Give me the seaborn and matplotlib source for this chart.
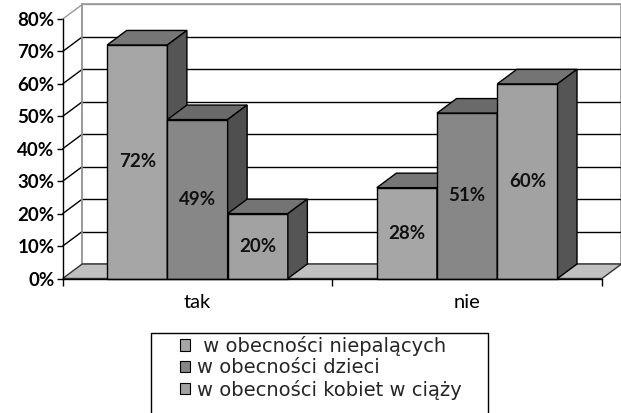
import matplotlib
matplotlib.use("Agg")
import matplotlib.pyplot as plt
import matplotlib.colors as mcolors
from matplotlib.patches import Polygon, Patch, Rectangle
import seaborn as sns
import pandas as pd

categories = ["tak", "nie"]
series = [" w obecności niepalących", "w obecności dzieci", "w obecności kobiet w ciąży"]
values_niepalacych = [72, 28]
values_dzieci = [49, 51]
values_kobiet = [20, 60]
y_ticks = [0, 10, 20, 30, 40, 50, 60, 70, 80]
y_tick_labels = [f"{t}%" for t in y_ticks]

front_colors = ["#a6a6a6", "#878787", "#a2a2a2"]
top_colors = ["#767676", "#6a6a6a", "#747474"]
side_colors = ["#555555", "#4f4f4f", "#555555"]

rows = []
for s, vals in zip(series, [values_niepalacych, values_dzieci, values_kobiet]):
    for c, v in zip(categories, vals):
        rows.append({"cat": c, "series": s, "value": v})
df = pd.DataFrame(rows)

sns.set_theme(style="white")
plt.rcParams["font.family"] = ["Lato", "DejaVu Sans"]

W, H = 621, 413
fig = plt.figure(figsize=(W / 100, H / 100), dpi=100)
x0, x1 = 62.7, 602.0
y0, y1 = 278.5, 19.0
ax = fig.add_axes([x0 / W, 1 - y0 / H, (x1 - x0) / W, (y0 - y1) / H])

sns.barplot(data=df, x="cat", y="value", hue="series", hue_order=series,
            palette=front_colors, width=0.67, edgecolor="black", linewidth=1.0,
            saturation=1, ax=ax, legend=False, errorbar=None)
ax.set_xlim(-0.5, 1.5)
ax.set_ylim(0, 80)

bars = [p for p in ax.patches if isinstance(p, Rectangle) and p.get_height() > 0]
bars = sorted(bars, key=lambda p: p.get_x())

# depth offsets (pixels -> data units)
px_x = (x1 - x0) / 2.0
px_y = (y0 - y1) / 80.0
dx = 19.5 / px_x
dy = 14.5 / px_y

xl, xr = ax.get_xlim()
yb, yt = ax.get_ylim()

# back wall
ax.add_patch(Polygon([(xl + dx, yb + dy), (xr + dx, yb + dy), (xr + dx, yt + dy), (xl + dx, yt + dy)],
                     closed=True, facecolor="white", edgecolor="#9a9a9a", linewidth=1.2,
                     zorder=0.5, clip_on=False))
# floor
ax.add_patch(Polygon([(xl, yb), (xr, yb), (xr + dx, yb + dy), (xl + dx, yb + dy)],
                     closed=True, facecolor="#c0c0c0", edgecolor="#333333", linewidth=1.0,
                     zorder=0.7, clip_on=False))
# gridlines on back and left wall
for t in y_ticks[1:]:
    col = "#9a9a9a" if t == yt else "black"
    ax.plot([xl + dx, xr + dx], [t + dy, t + dy], color=col, lw=1.0, zorder=0.6, clip_on=False)
    ax.plot([xl, xl + dx], [t, t + dy], color=col, lw=1.0, zorder=0.6, clip_on=False)
ax.plot([xl + dx, xl + dx], [yb + dy, yt + dy], color="#9a9a9a", lw=1.2, zorder=0.6, clip_on=False)

# 3D faces on bars
front_hex = [mcolors.to_hex(c) for c in front_colors]
for i, b in enumerate(bars):
    bx, bw, bh = b.get_x(), b.get_width(), b.get_height()
    si = front_hex.index(mcolors.to_hex(b.get_facecolor()))
    z = 10 + 3 * i
    b.set_zorder(z)
    b.set_clip_on(False)
    ax.add_patch(Polygon([(bx, bh), (bx + bw, bh), (bx + bw + dx, bh + dy), (bx + dx, bh + dy)],
                         closed=True, facecolor=top_colors[si], edgecolor="black",
                         linewidth=1.0, zorder=z + 1, clip_on=False))
    ax.add_patch(Polygon([(bx + bw, 0), (bx + bw + dx, dy), (bx + bw + dx, bh + dy), (bx + bw, bh)],
                         closed=True, facecolor=side_colors[si], edgecolor="black",
                         linewidth=1.0, zorder=z + 1, clip_on=False))
    ax.text(bx + bw / 2, bh / 2, f"{int(round(bh))}%", ha="center", va="center",
            fontsize=13.5, fontweight="bold", color="#111111", zorder=z + 2)

# axes styling
for s in ["top", "right"]:
    ax.spines[s].set_visible(False)
for s in ["left", "bottom"]:
    ax.spines[s].set_visible(True)
    ax.spines[s].set_color("black")
    ax.spines[s].set_linewidth(1.0)
    ax.spines[s].set_zorder(50)
ax.set_yticks(y_ticks)
ax.set_yticklabels(y_tick_labels, fontsize=13.5, fontweight="bold")
ax.set_xticks([0, 1])
ax.set_xticklabels(categories, fontsize=14.5)
ax.set_xticks([-0.5, 0.5, 1.5], minor=True)
ax.tick_params(axis="y", which="major", direction="out", length=4, width=1, color="black",
               left=True, pad=2, labelcolor="black")
ax.tick_params(axis="x", which="major", length=0, pad=11, labelcolor="black")
ax.tick_params(axis="x", which="minor", direction="out", length=5, width=1, color="black", bottom=True)
ax.set_xlabel("")
ax.set_ylabel("")
ax.set_facecolor("none")
ax.grid(False)

# legend box (extends past the bottom edge, as in the reference)
lx0, lx1, ly0 = 151, 488, 333
fig.patches.append(Rectangle((lx0 / W, -0.3), (lx1 - lx0) / W, 1 - ly0 / H + 0.3,
                             transform=fig.transFigure, facecolor="white",
                             edgecolor="black", linewidth=1.0, zorder=1))
handles = [Patch(facecolor=c, edgecolor="black", linewidth=0.8) for c in front_colors]
leg = fig.legend(handles, series, loc="upper left",
                 bbox_to_anchor=(180 / W, 1 - 336 / H), frameon=False,
                 prop={"family": ["DejaVu Sans"], "size": 14},
                 handlelength=0.52, handleheight=0.52, handletextpad=0.36,
                 labelspacing=0.12, borderpad=0, borderaxespad=0)
leg.set_zorder(5)

fig.savefig("out.png", dpi=100)
